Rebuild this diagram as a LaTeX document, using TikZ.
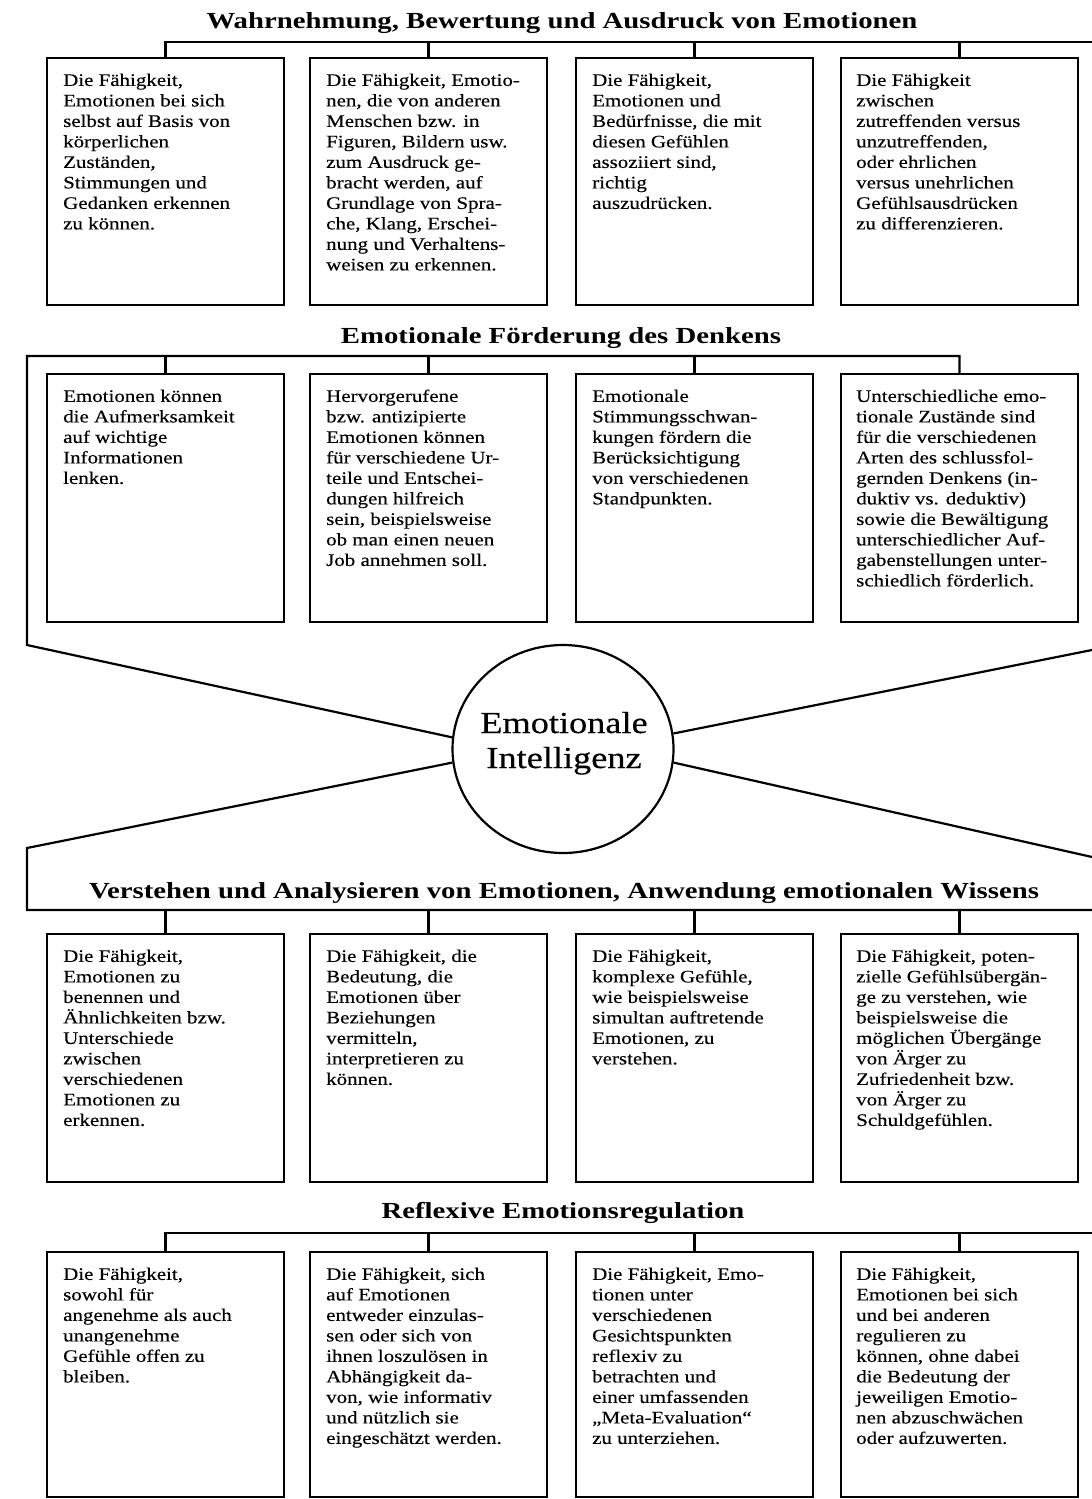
\documentclass[tikz,border=0pt]{standalone}
\usepackage{fontspec}
\usetikzlibrary{shapes.geometric}
\newfontfamily\bodyfam{Liberation Serif}[FakeStretch=1.19,FakeBold=0.35]
\newfontfamily\titlefam{Liberation Serif}[FakeStretch=1.25]
\newcommand\ft{\rule{0pt}{14pt}}
\begin{document}
\begin{tikzpicture}[x=1pt,y=-1pt,
  ln/.style={line width=2.2pt, line join=miter},
  bx/.style={draw, line width=2.2pt, minimum width=237pt, inner sep=0pt, outer sep=0pt, anchor=north west},
  tx/.style={anchor=north west, inner sep=0pt, align=left, font=\bodyfam\fontsize{17.6pt}{20.5pt}\selectfont},
  ttl/.style={anchor=base, inner sep=0pt, font=\titlefam\bfseries\fontsize{23pt}{26pt}\selectfont},
  ctr/.style={anchor=base, inner sep=0pt, font=\bodyfam\fontsize{30.5pt}{35pt}\selectfont}]
\fill[white] (0,0) rectangle (1092,1499);
\useasboundingbox (0,0) rectangle (1092,1499);

% ---------- titles
\node[ttl] (h1) at (562,28) {Wahrnehmung, Bewertung und Ausdruck von Emotionen};
\node[ttl] (h2) at (561,343) {Emotionale Förderung des Denkens};
\node[ttl] (h3) at (564,898) {Verstehen und Analysieren von Emotionen, Anwendung emotionalen Wissens};
\node[ttl] (h4) at (563,1218) {Reflexive Emotionsregulation};

% ---------- row 1
\node[bx, minimum height=247pt] (b11) at (47,58) {};
\node[bx, minimum height=247pt] (b12) at (310,58) {};
\node[bx, minimum height=247pt] (b13) at (576,58) {};
\node[bx, minimum height=247pt] (b14) at (841,58) {};
\node[tx] (t11) at (63,71.7) {\ft Die Fähigkeit,\\ Emotionen bei sich\\ selbst auf Basis von\\ körperlichen\\ Zuständen,\\ Stimmungen und\\ Gedanken erkennen\\ zu können.};
\node[tx] (t12) at (326,71.7) {\ft Die Fähigkeit, Emotio-\\ nen, die von anderen\\ Menschen bzw. in\\ Figuren, Bildern usw.\\ zum Ausdruck ge-\\ bracht werden, auf\\ Grundlage von Spra-\\ che, Klang, Erschei-\\ nung und Verhaltens-\\ weisen zu erkennen.};
\node[tx] (t13) at (592,71.7) {\ft Die Fähigkeit,\\ Emotionen und\\ Bedürfnisse, die mit\\ diesen Gefühlen\\ assoziiert sind,\\ richtig\\ auszudrücken.};
\node[tx] (t14) at (856,71.7) {\ft Die Fähigkeit\\ zwischen\\ zutreffenden versus\\ unzutreffenden,\\ oder ehrlichen\\ versus unehrlichen\\ Gefühlsausdrücken\\ zu differenzieren.};
\coordinate (r1r) at (1092,42);
\draw[ln] (r1r) -- (b11.north |- r1r) -- (b11.north);
\foreach \b in {b12,b13,b14} \draw[ln] (\b.north) -- (\b.north |- r1r);

% ---------- row 2
\node[bx, minimum height=248pt] (b21) at (47,374) {};
\node[bx, minimum height=248pt] (b22) at (310,374) {};
\node[bx, minimum height=248pt] (b23) at (576,374) {};
\node[bx, minimum height=248pt] (b24) at (841,374) {};
\node[tx] (t21) at (63,387.7) {\ft Emotionen können\\ die Aufmerksamkeit\\ auf wichtige\\ Informationen\\ lenken.};
\node[tx] (t22) at (326,387.7) {\ft Hervorgerufene\\ bzw. antizipierte\\ Emotionen können\\ für verschiedene Ur-\\ teile und Entschei-\\ dungen hilfreich\\ sein, beispielsweise\\ ob man einen neuen\\ Job annehmen soll.};
\node[tx] (t23) at (592,387.7) {\ft Emotionale\\ Stimmungsschwan-\\ kungen fördern die\\ Berücksichtigung\\ von verschiedenen\\ Standpunkten.};
\node[tx] (t24) at (856,387.7) {\ft Unterschiedliche emo-\\ tionale Zustände sind\\ für die verschiedenen\\ Arten des schlussfol-\\ gernden Denkens (in-\\ duktiv vs. deduktiv)\\ sowie die Bewältigung\\ unterschiedlicher Auf-\\ gabenstellungen unter-\\ schiedlich förderlich.};

% ---------- centre
\node[ellipse, draw, line width=2.2pt, minimum width=221pt, minimum height=208pt, inner sep=0pt] (ei) at (563,749) {};
\node[ctr] (e1) at (564,733) {Emotionale};
\node[ctr] (e2) at (564,768) {Intelligenz};

\coordinate (r2l) at (27,356);
\coordinate (ulc) at (27,645);
\draw[ln] (ei.174) -- (ulc) -- (r2l) -- (b24.north |- r2l) -- (b24.north);
\foreach \b in {b21,b22,b23} \draw[ln] (\b.north) -- (\b.north |- r2l);

\coordinate (urc) at (1092,650);
\coordinate (lrc) at (1092,857);
\draw[ln] (ei.8) -- (urc);
\draw[ln] (ei.353) -- (lrc);

% ---------- row 3
\coordinate (llc) at (27,848);
\coordinate (r3l) at (27,910);
\coordinate (r3r) at (1092,910);
\draw[ln] (ei.187) -- (llc) -- (r3l) -- (r3r);
\node[bx, minimum height=248pt] (b31) at (47,934) {};
\node[bx, minimum height=248pt] (b32) at (310,934) {};
\node[bx, minimum height=248pt] (b33) at (576,934) {};
\node[bx, minimum height=248pt] (b34) at (841,934) {};
\foreach \b in {b31,b32,b33,b34} \draw[ln] (\b.north) -- (\b.north |- r3r);
\node[tx] (t31) at (63,947.7) {\ft Die Fähigkeit,\\ Emotionen zu\\ benennen und\\ Ähnlichkeiten bzw.\\ Unterschiede\\ zwischen\\ verschiedenen\\ Emotionen zu\\ erkennen.};
\node[tx] (t32) at (326,947.7) {\ft Die Fähigkeit, die\\ Bedeutung, die\\ Emotionen über\\ Beziehungen\\ vermitteln,\\ interpretieren zu\\ können.};
\node[tx] (t33) at (592,947.7) {\ft Die Fähigkeit,\\ komplexe Gefühle,\\ wie beispielsweise\\ simultan auftretende\\ Emotionen, zu\\ verstehen.};
\node[tx] (t34) at (856,947.7) {\ft Die Fähigkeit, poten-\\ zielle Gefühlsübergän-\\ ge zu verstehen, wie\\ beispielsweise die\\ möglichen Übergänge\\ von Ärger zu\\ Zufriedenheit bzw.\\ von Ärger zu\\ Schuldgefühlen.};

% ---------- row 4
\node[bx, minimum height=245pt] (b41) at (47,1252) {};
\node[bx, minimum height=245pt] (b42) at (310,1252) {};
\node[bx, minimum height=245pt] (b43) at (576,1252) {};
\node[bx, minimum height=245pt] (b44) at (841,1252) {};
\coordinate (r4r) at (1092,1233);
\draw[ln] (r4r) -- (b41.north |- r4r) -- (b41.north);
\foreach \b in {b42,b43,b44} \draw[ln] (\b.north) -- (\b.north |- r4r);
\node[tx] (t41) at (63,1265.7) {\ft Die Fähigkeit,\\ sowohl für\\ angenehme als auch\\ unangenehme\\ Gefühle offen zu\\ bleiben.};
\node[tx] (t42) at (326,1265.7) {\ft Die Fähigkeit, sich\\ auf Emotionen\\ entweder einzulas-\\ sen oder sich von\\ ihnen loszulösen in\\ Abhängigkeit da-\\ von, wie informativ\\ und nützlich sie\\ eingeschätzt werden.};
\node[tx] (t43) at (592,1265.7) {\ft Die Fähigkeit, Emo-\\ tionen unter\\ verschiedenen\\ Gesichtspunkten\\ reflexiv zu\\ betrachten und\\ einer umfassenden\\ „Meta-Evaluation“\\ zu unterziehen.};
\node[tx] (t44) at (856,1265.7) {\ft Die Fähigkeit,\\ Emotionen bei sich\\ und bei anderen\\ regulieren zu\\ können, ohne dabei\\ die Bedeutung der\\ jeweiligen Emotio-\\ nen abzuschwächen\\ oder aufzuwerten.};
\end{tikzpicture}
\end{document}
